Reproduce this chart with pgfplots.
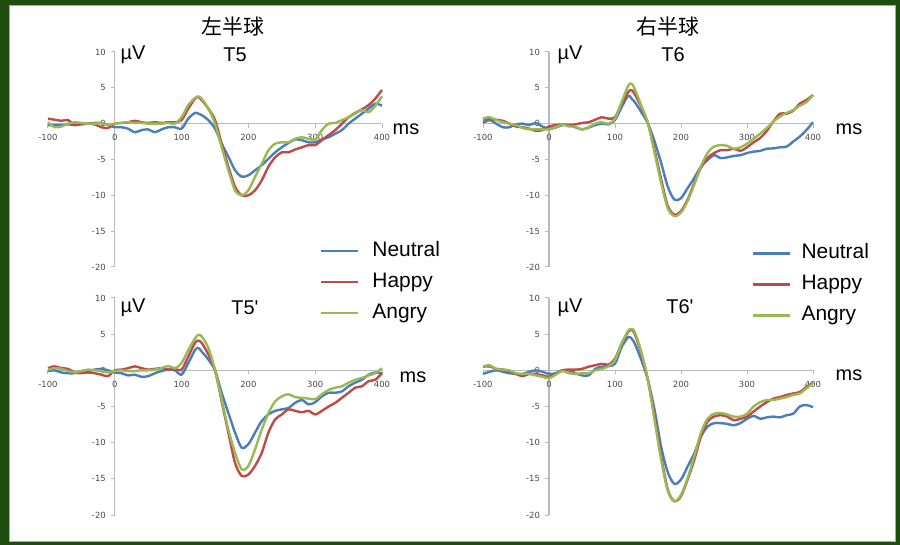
\documentclass[border=0pt]{standalone}
\usepackage{pgfplots}
\pgfplotsset{compat=1.18}
\usepackage{pgfplotstable}
\usepackage{fontspec}
\setmainfont{Liberation Sans}
\newfontfamily\cjk{Noto Sans CJK SC}
\newfontfamily\tickfont{DejaVu Sans}
\definecolor{cN}{HTML}{4A7EBB}
\definecolor{cH}{HTML}{BE4B48}
\definecolor{cA}{HTML}{98B954}
\definecolor{bord}{HTML}{1F4C0F}
\definecolor{bordin}{HTML}{9DB58F}
\definecolor{axgray}{HTML}{BABABA}
\definecolor{tickgray}{HTML}{4A4A4A}

% T5 (left hemisphere, upper)
\pgfplotstableread{
t n h a
-100 -0.2 0.7 0.2
-90 -0.2 0.55 -0.5
-80 -0.2 0.4 -0.4
-70 -0.1 0.5 0.0
-60 -0.2 -0.2 0.2
-50 -0.1 0.0 0.1
-40 0.0 0.0 0.0
-30 0.1 -0.1 0.0
-20 0.1 -0.5 0.1
-10 -0.2 -0.6 -0.2
0 -0.5 0.0 0.0
10 -0.5 0.1 0.1
20 -0.7 0.2 0.2
30 -1.2 0.4 0.1
40 -0.9 0.2 0.1
50 -0.8 0.1 0.0
60 -1.2 0.2 0.0
70 -0.8 0.1 0.0
80 -0.5 0.2 0.1
90 -0.5 0.2 0.0
100 -0.7 0.5 0.9
110 0.7 2.1 2.6
120 1.5 3.5 3.6
125 1.4 3.7 3.8
130 1.2 3.3 3.5
140 0.5 2.1 2.1
150 -0.7 0.5 0.0
160 -2.8 -2.8 -3.3
170 -4.6 -6.0 -6.5
180 -6.5 -8.8 -9.3
190 -7.4 -10.0 -10.0
200 -7.2 -10.0 -9.3
210 -6.5 -9.3 -7.4
220 -5.8 -7.9 -5.6
230 -4.9 -6.0 -3.7
240 -4.0 -4.7 -2.8
250 -3.3 -4.0 -2.6
260 -2.7 -4.0 -2.6
270 -2.2 -3.6 -2.1
280 -2.3 -3.3 -1.9
290 -2.6 -3.0 -2.1
300 -2.6 -3.0 -2.2
310 -2.2 -2.3 -0.9
320 -1.9 -1.6 0.0
330 -1.4 -0.9 0.1
340 -0.9 0.0 0.5
350 0.0 0.9 0.9
360 0.7 1.5 1.4
370 1.4 2.0 1.9
380 2.1 2.6 1.6
390 2.8 3.5 2.5
400 2.5 4.7 3.8
}\tabA

% T6 (right hemisphere, upper)
\pgfplotstableread{
t n h a
-100 0.1 0.55 0.7
-90 0.5 0.7 0.9
-80 0.0 0.55 0.5
-70 -0.5 0.4 0.2
-60 -0.5 0.0 0.0
-50 -0.1 -0.4 -0.2
-40 0.0 -0.5 -0.6
-30 -0.2 -0.7 -0.8
-20 0.1 -1.0 -0.8
-10 -0.4 -0.9 -0.8
0 -0.7 -0.4 -0.8
10 -0.55 -0.2 -0.5
20 -0.2 -0.1 -0.1
30 -0.2 -0.2 -0.4
40 -0.5 -0.1 -0.4
50 -0.8 0.1 -0.8
60 -0.55 0.2 -0.5
70 -0.2 0.55 0.0
80 0.0 0.9 0.2
90 -0.1 0.7 0.0
100 0.5 0.9 0.7
110 2.3 2.8 3.0
120 3.9 4.4 5.3
125 3.5 4.7 5.6
130 3.0 4.1 4.8
140 1.6 2.3 2.5
150 0.0 0.0 0.0
160 -2.5 -3.7 -4.1
170 -5.5 -7.8 -8.3
180 -8.8 -11.5 -11.8
190 -10.6 -12.7 -12.9
200 -10.4 -12.2 -12.4
210 -9.0 -10.6 -10.8
220 -7.6 -8.3 -8.5
230 -6.0 -6.2 -6.0
240 -5.1 -4.8 -4.1
250 -4.4 -4.1 -3.2
260 -4.8 -3.7 -3.0
270 -4.7 -3.7 -3.1
280 -4.5 -3.5 -3.5
290 -4.4 -3.8 -3.3
300 -4.1 -3.3 -2.8
310 -3.9 -2.6 -2.1
320 -3.8 -2.0 -1.4
330 -3.5 -1.0 -0.6
340 -3.45 0.3 0.3
350 -3.3 1.4 1.0
360 -3.2 1.4 1.5
370 -2.5 1.8 1.9
380 -1.8 2.8 2.5
390 -0.9 3.3 3.0
400 0.2 4.0 4.0
}\tabB

% T5' (left hemisphere, lower)
\pgfplotstableread{
t n h a
-100 -0.1 0.3 0.1
-90 0.0 0.55 0.3
-80 -0.3 0.3 0.2
-70 -0.4 0.2 -0.1
-60 -0.4 -0.3 -0.3
-50 -0.1 -0.4 -0.1
-40 -0.1 -0.3 0.1
-30 0.1 -0.4 0.0
-20 0.2 -0.6 -0.1
-10 0.0 -0.8 -0.3
0 -0.3 0.0 -0.1
10 -0.4 0.1 0.0
20 -0.7 0.3 -0.1
30 -0.6 0.55 -0.1
40 -0.9 0.3 0.0
50 -0.8 0.1 0.0
60 -0.4 0.2 0.1
70 -0.1 0.3 0.3
80 0.1 0.1 0.6
90 0.0 0.2 0.3
100 -0.6 0.1 1.0
110 1.0 1.9 2.8
120 2.8 3.8 4.4
125 3.1 4.1 4.9
130 2.6 3.8 4.7
140 1.5 2.2 3.1
150 0.0 0.0 0.1
160 -3.1 -4.3 -4.0
170 -5.9 -8.6 -8.2
180 -8.6 -12.8 -11.4
190 -10.7 -14.6 -13.7
200 -10.2 -14.4 -13.2
210 -8.6 -13.2 -10.9
220 -7.0 -11.4 -8.2
230 -6.1 -8.6 -5.9
240 -5.6 -6.8 -4.3
250 -5.4 -6.1 -3.6
260 -5.2 -5.4 -3.3
270 -4.5 -5.6 -3.7
280 -4.1 -5.8 -3.8
290 -4.7 -5.6 -3.9
300 -4.4 -6.1 -4.0
310 -3.6 -5.6 -3.3
320 -3.1 -5.0 -2.7
330 -3.1 -4.5 -2.4
340 -2.9 -3.8 -2.2
350 -2.2 -3.1 -1.7
360 -1.7 -2.4 -1.3
370 -1.3 -2.2 -1.05
380 -0.6 -1.5 -0.7
390 -0.3 -1.3 -0.4
400 -0.4 -0.4 0.3
}\tabC

% T6' (right hemisphere, lower)
\pgfplotstableread{
t n h a
-100 -0.5 0.5 0.55
-90 -0.2 0.55 0.7
-80 0.0 0.2 0.2
-70 -0.2 0.1 0.1
-60 -0.4 -0.1 0.0
-50 -0.5 -0.5 -0.4
-40 -0.5 -0.8 -0.5
-30 -0.2 -0.5 -0.5
-20 0.0 -0.5 -0.7
-10 -0.2 -0.7 -0.9
0 -0.5 -0.9 -1.1
10 -0.4 -0.5 -0.6
20 0.0 0.0 -0.1
30 0.0 0.1 -0.4
40 -0.4 0.1 -0.5
50 -0.7 0.2 -0.4
60 -0.7 0.5 -0.4
70 0.2 0.7 0.0
80 0.5 0.9 0.2
90 0.6 0.8 0.55
100 0.9 1.6 1.4
110 3.2 3.7 3.7
120 4.6 5.3 5.5
125 4.4 5.6 5.7
130 3.7 5.0 5.3
140 1.4 2.3 2.5
150 -1.4 -1.4 -1.4
160 -5.5 -6.4 -6.9
170 -10.6 -11.9 -12.4
180 -14.1 -16.5 -16.7
190 -15.7 -18.1 -18.1
200 -15.1 -17.4 -17.2
210 -13.3 -15.1 -14.9
220 -11.5 -12.4 -11.9
230 -9.2 -9.2 -8.7
240 -7.8 -7.1 -6.7
250 -7.3 -6.4 -6.0
260 -7.3 -6.2 -5.9
270 -7.4 -6.4 -6.1
280 -7.6 -6.9 -6.4
290 -7.3 -6.7 -6.4
300 -6.7 -6.4 -6.0
310 -6.3 -5.7 -5.0
320 -6.7 -5.0 -4.4
330 -6.5 -4.4 -4.1
340 -6.4 -3.9 -4.1
350 -6.5 -3.7 -3.9
360 -6.2 -3.4 -3.7
370 -6.0 -3.2 -3.4
380 -5.0 -3.0 -3.2
390 -4.8 -2.3 -2.5
400 -5.1 -1.7 -1.8
}\tabD

\pgfplotsset{
  erp/.style={
    scale only axis,
    axis lines=middle,
    axis line style={-, draw=axgray, line width=1.3bp},
    xmin=-100, xmax=400, ymin=-20, ymax=10,
    xtick={-100,0,100,200,300,400},
    ytick={-20,-15,-10,-5,0,5,10},
    hide obscured x ticks=false, hide obscured y ticks=false,
    major tick style={draw=axgray, line width=1bp},
    major tick length=4bp,
    tick align=outside,
    /pgf/number format/assume math mode=true,
    ticklabel style={font=\tickfont\fontsize{8.5}{8.5}\selectfont, text=tickgray},
    xticklabel style={yshift=-3bp},
    yticklabel style={xshift=-1.5bp},
    clip=false,
    every axis plot/.append style={line width=2.4bp, smooth, tension=0.5, mark=none, line join=round},
  },
  erpleg/.style={
    legend image code/.code={\draw[##1, line width=2.6bp] (0bp,0bp) -- (37bp,0bp);},
    legend cell align=left,
    legend style={draw=none, fill=none, inner sep=0pt, outer sep=0pt,
      font=\fontsize{21}{21}\selectfont,
      row sep=11bp, column sep=0bp,
      nodes={inner sep=0pt, text height=15bp, text depth=5bp},
      at={(#1)}, anchor=north west},
  },
}

\begin{document}
\begin{tikzpicture}
\fill[bord] (0bp,0bp) rectangle (900bp,545bp);
\fill[white] (10bp,4bp) rectangle (895bp,539bp);
\draw[bordin, line width=1.2bp] (9.6bp,3.6bp) rectangle (895.4bp,539.4bp);

\begin{axis}[erp, erpleg={0.814,0.12}, at={(48bp,278bp)}, anchor=south west, width=334bp, height=215bp]
\addplot[cN] table[x=t,y=n]{\tabA}; \addlegendentry{\hspace{13bp}Neutral}
\addplot[cH] table[x=t,y=h]{\tabA}; \addlegendentry{\hspace{13bp}Happy}
\addplot[cA] table[x=t,y=a]{\tabA}; \addlegendentry{\hspace{13bp}Angry}
\end{axis}

\begin{axis}[erp, erpleg={0.815,0.11}, at={(483bp,278bp)}, anchor=south west, width=330bp, height=215bp]
\addplot[cN] table[x=t,y=n]{\tabB}; \addlegendentry{\hspace{10bp}Neutral}
\addplot[cH] table[x=t,y=h]{\tabB}; \addlegendentry{\hspace{10bp}Happy}
\addplot[cA] table[x=t,y=a]{\tabB}; \addlegendentry{\hspace{10bp}Angry}
\end{axis}

\begin{axis}[erp, at={(48bp,30bp)}, anchor=south west, width=334bp, height=217bp]
\addplot[cN] table[x=t,y=n]{\tabC};
\addplot[cH] table[x=t,y=h]{\tabC};
\addplot[cA] table[x=t,y=a]{\tabC};
\end{axis}

\begin{axis}[erp, at={(483bp,30bp)}, anchor=south west, width=330bp, height=217bp]
\addplot[cN] table[x=t,y=n]{\tabD};
\addplot[cH] table[x=t,y=h]{\tabD};
\addplot[cA] table[x=t,y=a]{\tabD};
\end{axis}

\begin{scope}[every node/.style={inner sep=0pt, text=black}]
\node[font=\cjk\fontsize{21}{21}\selectfont] at (233bp,518bp) {左半球};
\node[font=\cjk\fontsize{21}{21}\selectfont] at (668bp,518bp) {右半球};
\node[font=\fontsize{20}{20}\selectfont] at (235bp,490bp) {T5};
\node[font=\fontsize{20}{20}\selectfont] at (673bp,490bp) {T6};
\node[font=\fontsize{20}{20}\selectfont] at (245bp,237bp) {T5\textquotesingle};
\node[font=\fontsize{20}{20}\selectfont] at (680bp,238bp) {T6\textquotesingle};
\node[font=\fontsize{20}{20}\selectfont] at (133bp,490bp) {µV};
\node[font=\fontsize{20}{20}\selectfont] at (570bp,490bp) {µV};
\node[font=\fontsize{20}{20}\selectfont] at (133bp,237bp) {µV};
\node[font=\fontsize{20}{20}\selectfont] at (570bp,237bp) {µV};
\node[font=\fontsize{20}{20}\selectfont] at (406bp,416bp) {ms};
\node[font=\fontsize{20}{20}\selectfont] at (849bp,416bp) {ms};
\node[font=\fontsize{20}{20}\selectfont] at (413bp,168bp) {ms};
\node[font=\fontsize{20}{20}\selectfont] at (849bp,170bp) {ms};
\end{scope}
\end{tikzpicture}
\end{document}
